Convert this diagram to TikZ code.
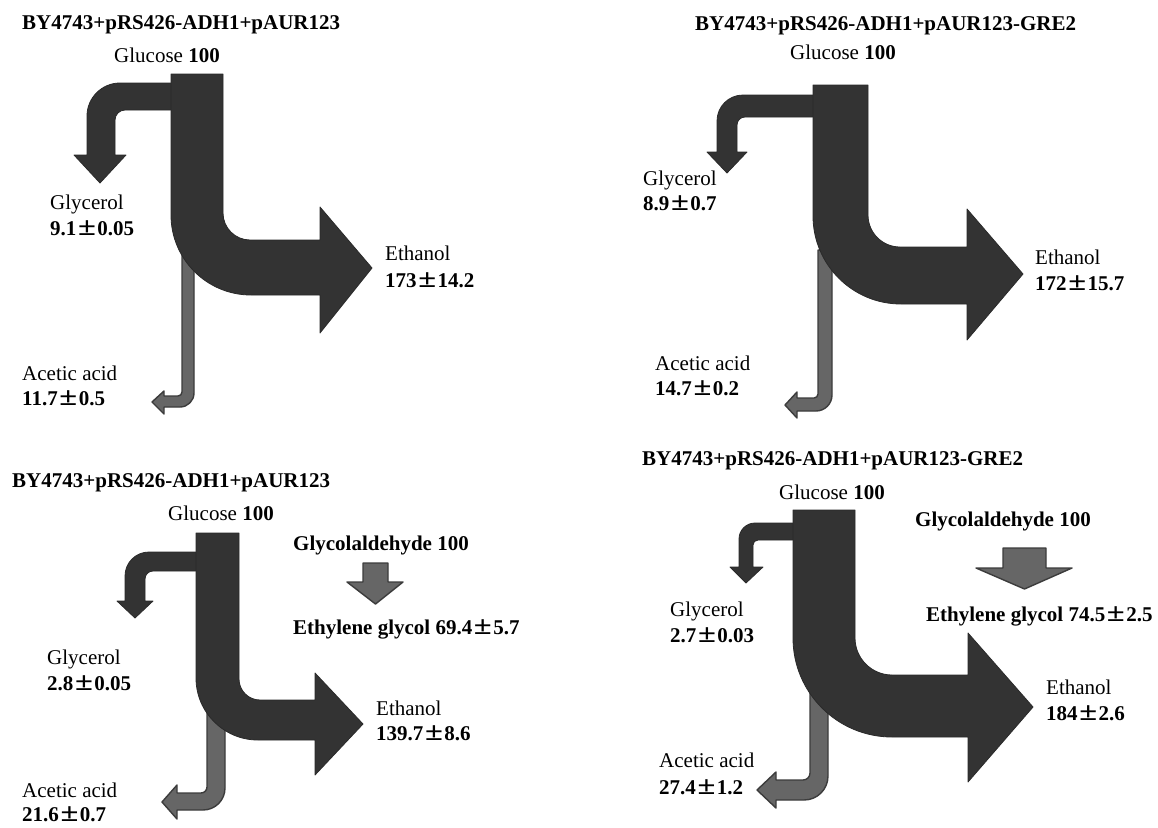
\documentclass[tikz,border=0pt]{standalone}
\usepackage{graphicx}
\usepackage{fontspec}
\setmainfont{Liberation Serif}
\definecolor{flowdark}{HTML}{333333}
\definecolor{flowedge}{HTML}{2A2A2A}
\definecolor{flowgray}{HTML}{666666}
\definecolor{grayedge}{HTML}{3C3C3C}
\newcommand{\PM}{\makebox[1em][c]{\scalebox{1.55}[1.25]{±}}}
\tikzset{
  flow/.style={fill=flowdark, draw=flowedge, line width=0.8pt, line join=round},
  minor/.style={fill=flowgray, draw=grayedge, line width=1.4pt, line join=round},
  lbl/.style={anchor=base west, inner sep=0pt, font=\fontsize{21}{25}\selectfont},
  ttl/.style={anchor=base west, inner sep=0pt, font=\fontsize{21}{25}\selectfont\bfseries},
}
\begin{document}
\begin{tikzpicture}[x=1pt, y=-1pt]
\fill[white] (0,0) rectangle (1158,827);
\useasboundingbox (0,0) rectangle (1158,827);

% ---------------- Panel 1 (top left) ----------------
\path[minor] (182,240) -- (194,240) -- (194,393) .. controls (194,400.7) and (187.7,407) .. (180,407) -- (164,407) -- (164,414) -- (152,402) -- (164,391) -- (164,396) -- (178,396) .. controls (180.2,396) and (182,394.2) .. (182,392) -- cycle;
\path[flow] (176,83) -- (120,83) .. controls (101.8,83) and (87,97.8) .. (87,116) -- (87,155) -- (74,155) -- (100,183) -- (126,155) -- (115,155) -- (115,120) .. controls (115,114.5) and (119.5,110) .. (125,110) -- (176,110) -- cycle;
\path[flow] (171,74) -- (223,74) -- (223,213) .. controls (223,227.9) and (235.1,240) .. (250,240) -- (320,240) -- (320,207) -- (372,268) -- (320,333) -- (320,295) -- (251,295) .. controls (206.8,295) and (171,259.2) .. (171,215) -- cycle;
\node[ttl] (t1) at (22,29) {BY4743+pRS426-ADH1+pAUR123};
\node[lbl] (glc1) at (114,62) {Glucose \textbf{100}};
\node[lbl] (gly1) at (50,209) {Glycerol};
\node[lbl] (gly1v) at (50,235) {\textbf{9.1\PM0.05}};
\node[lbl] (eth1) at (385,260) {Ethanol};
\node[lbl] (eth1v) at (385,287) {\textbf{173\PM14.2}};
\node[lbl] (ace1) at (22,380) {Acetic acid};
\node[lbl] (ace1v) at (22,405) {\textbf{11.7\PM0.5}};

% ---------------- Panel 2 (top right) ----------------
\path[minor] (818,250) -- (832,250) -- (832,395) .. controls (832,403.8) and (824.8,411) .. (816,411) -- (797,411) -- (797,418) -- (785,405) -- (797,392) -- (797,398) -- (814,398) .. controls (816.2,398) and (818,396.2) .. (818,394) -- cycle;
\path[flow] (818,95) -- (743,95) .. controls (728.6,95) and (717,106.6) .. (717,121) -- (717,152) -- (707,152) -- (727,173) -- (747,152) -- (737,152) -- (737,125) .. controls (737,120.6) and (740.6,117) .. (745,117) -- (818,117) -- cycle;
\path[flow] (813,85) -- (868,85) -- (868,215) .. controls (868,232.7) and (882.3,247) .. (900,247) -- (967,247) -- (967,209) -- (1023,274) -- (967,340) -- (967,304) -- (901,304) .. controls (852.4,304) and (813,264.6) .. (813,216) -- cycle;
\node[ttl] (t2) at (695,30) {BY4743+pRS426-ADH1+pAUR123-GRE2};
\node[lbl] (glc2) at (790,59) {Glucose \textbf{100}};
\node[lbl] (gly2) at (643,185) {Glycerol};
\node[lbl] (gly2v) at (643,210) {\textbf{8.9\PM0.7}};
\node[lbl] (eth2) at (1035,264) {Ethanol};
\node[lbl] (eth2v) at (1035,290) {\textbf{172\PM15.7}};
\node[lbl] (ace2) at (655,370) {Acetic acid};
\node[lbl] (ace2v) at (655,395) {\textbf{14.7\PM0.2}};

% ---------------- Panel 3 (bottom left) ----------------
\path[minor] (207,700) -- (225,700) -- (225,788) .. controls (225,800.2) and (215.2,810) .. (203,810) -- (177,810) -- (177,819) -- (162,802) -- (177,785) -- (177,793) -- (201,793) .. controls (204.3,793) and (207,790.3) .. (207,787) -- cycle;
\path[flow] (201,552) -- (149,552) .. controls (135.7,552) and (125,562.7) .. (125,576) -- (125,601) -- (117,601) -- (135,618) -- (153,601) -- (145,601) -- (145,579) .. controls (145,574.6) and (148.6,571) .. (153,571) -- (201,571) -- cycle;
\path[flow] (196,533) -- (239,533) -- (239,679) .. controls (239,690.6) and (248.4,700) .. (260,700) -- (315,700) -- (315,673) -- (363,724) -- (315,775) -- (315,740) -- (258,740) .. controls (223.8,740) and (196,712.2) .. (196,678) -- cycle;
\path[minor] (363,563) -- (388,563) -- (388,582) -- (403,582) -- (375.5,604) -- (347,582) -- (363,582) -- cycle;
\node[ttl] (t3) at (12,487) {BY4743+pRS426-ADH1+pAUR123};
\node[lbl] (glc3) at (168,520) {Glucose \textbf{100}};
\node[ttl] (gal3) at (293,550) {Glycolaldehyde 100};
\node[ttl] (eg3) at (293,634) {Ethylene glycol 69.4\PM5.7};
\node[lbl] (gly3) at (47,664) {Glycerol};
\node[lbl] (gly3v) at (47,690) {\textbf{2.8\PM0.05}};
\node[lbl] (eth3) at (376,715) {Ethanol};
\node[lbl] (eth3v) at (376,740) {\textbf{139.7\PM8.6}};
\node[lbl] (ace3) at (22,797) {Acetic acid};
\node[lbl] (ace3v) at (22,821) {\textbf{21.6\PM0.7}};

% ---------------- Panel 4 (bottom right) ----------------
\path[minor] (810,680) -- (828,680) -- (828,776) .. controls (828,789.3) and (817.3,800) .. (804,800) -- (776,800) -- (776,808) -- (757,790) -- (776,772) -- (776,780) -- (803,780) .. controls (806.9,780) and (810,776.9) .. (810,773) -- cycle;
\path[flow] (798,523) -- (755,523) .. controls (746.2,523) and (739,530.2) .. (739,539) -- (739,567) -- (730,567) -- (746,583) -- (763,567) -- (753,567) -- (753,545) .. controls (753,542.2) and (755.2,540) .. (758,540) -- (798,540) -- cycle;
\path[flow] (793,510) -- (855,510) -- (855,638) .. controls (855,658.4) and (871.6,675) .. (892,675) -- (968,675) -- (968,633) -- (1033,707) -- (968,782) -- (968,737) -- (892,737) .. controls (837.3,737) and (793,692.7) .. (793,638) -- cycle;
\path[minor] (1003,548) -- (1046,548) -- (1046,568) -- (1072,568) -- (1024.5,589) -- (976,568) -- (1003,568) -- cycle;
\node[ttl] (t4) at (642,465) {BY4743+pRS426-ADH1+pAUR123-GRE2};
\node[lbl] (glc4) at (779,499) {Glucose \textbf{100}};
\node[ttl] (gal4) at (915,526) {Glycolaldehyde 100};
\node[ttl] (eg4) at (926,621) {Ethylene glycol 74.5\PM2.5};
\node[lbl] (gly4) at (670,616) {Glycerol};
\node[lbl] (gly4v) at (670,642) {\textbf{2.7\PM0.03}};
\node[lbl] (eth4) at (1046,694) {Ethanol};
\node[lbl] (eth4v) at (1046,720) {\textbf{184\PM2.6}};
\node[lbl] (ace4) at (659,767) {Acetic acid};
\node[lbl] (ace4v) at (659,794) {\textbf{27.4\PM1.2}};
\end{tikzpicture}
\end{document}
